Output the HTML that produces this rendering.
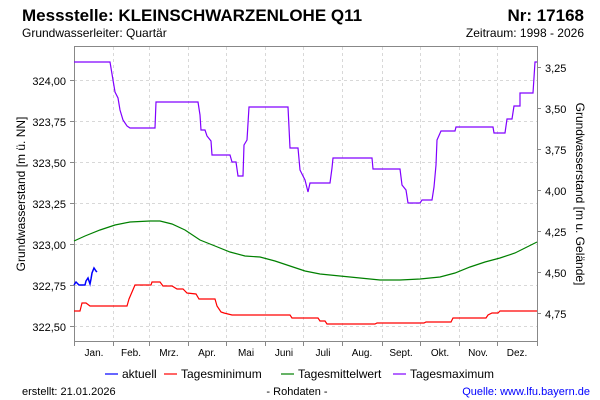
<!DOCTYPE html>
<html><head><meta charset="utf-8"><style>
body{margin:0;background:#fff;}
svg{display:block;font-family:"Liberation Sans",sans-serif;}
</style></head><body>
<svg width="600" height="400" viewBox="0 0 600 400">
<text x="22" y="21" font-size="17" font-weight="bold" fill="#000">Messstelle: KLEINSCHWARZENLOHE Q11</text>
<text x="584" y="21" font-size="17" font-weight="bold" text-anchor="end">Nr: 17168</text>
<text x="22" y="37" font-size="12">Grundwasserleiter: Quartär</text>
<text x="584" y="37" font-size="12" text-anchor="end">Zeitraum: 1998 - 2026</text>
<g stroke="#d8d8d8" stroke-dasharray="3,3" stroke-width="1">
<line x1="74" x2="537" y1="80.5" y2="80.5"/><line x1="74" x2="537" y1="121.5" y2="121.5"/><line x1="74" x2="537" y1="162.5" y2="162.5"/><line x1="74" x2="537" y1="203.5" y2="203.5"/><line x1="74" x2="537" y1="244.5" y2="244.5"/><line x1="74" x2="537" y1="285.5" y2="285.5"/><line x1="74" x2="537" y1="326.5" y2="326.5"/>
<line y1="47" y2="341" x1="113.5" x2="113.5"/><line y1="47" y2="341" x1="149.5" x2="149.5"/><line y1="47" y2="341" x1="188.5" x2="188.5"/><line y1="47" y2="341" x1="226.5" x2="226.5"/><line y1="47" y2="341" x1="265.5" x2="265.5"/><line y1="47" y2="341" x1="303.5" x2="303.5"/><line y1="47" y2="341" x1="342.5" x2="342.5"/><line y1="47" y2="341" x1="382.5" x2="382.5"/><line y1="47" y2="341" x1="420.5" x2="420.5"/><line y1="47" y2="341" x1="459.5" x2="459.5"/><line y1="47" y2="341" x1="497.5" x2="497.5"/>
</g>
<rect x="74.5" y="46.5" width="463" height="295" fill="none" stroke="#888"/>
<g stroke="#888"><line x1="74.5" x2="74.5" y1="341" y2="346"/><line x1="113.5" x2="113.5" y1="341" y2="346"/><line x1="149.5" x2="149.5" y1="341" y2="346"/><line x1="188.5" x2="188.5" y1="341" y2="346"/><line x1="226.5" x2="226.5" y1="341" y2="346"/><line x1="265.5" x2="265.5" y1="341" y2="346"/><line x1="303.5" x2="303.5" y1="341" y2="346"/><line x1="342.5" x2="342.5" y1="341" y2="346"/><line x1="382.5" x2="382.5" y1="341" y2="346"/><line x1="420.5" x2="420.5" y1="341" y2="346"/><line x1="459.5" x2="459.5" y1="341" y2="346"/><line x1="497.5" x2="497.5" y1="341" y2="346"/><line x1="537.5" x2="537.5" y1="341" y2="346"/>
<line x1="70" x2="74" y1="80.5" y2="80.5"/><line x1="70" x2="74" y1="121.5" y2="121.5"/><line x1="70" x2="74" y1="162.5" y2="162.5"/><line x1="70" x2="74" y1="203.5" y2="203.5"/><line x1="70" x2="74" y1="244.5" y2="244.5"/><line x1="70" x2="74" y1="285.5" y2="285.5"/><line x1="70" x2="74" y1="326.5" y2="326.5"/>
<line x1="537" x2="541" y1="67.5" y2="67.5"/><line x1="537" x2="541" y1="108.5" y2="108.5"/><line x1="537" x2="541" y1="149.5" y2="149.5"/><line x1="537" x2="541" y1="190.5" y2="190.5"/><line x1="537" x2="541" y1="231.5" y2="231.5"/><line x1="537" x2="541" y1="272.5" y2="272.5"/><line x1="537" x2="541" y1="313.5" y2="313.5"/></g>
<g font-size="11" text-anchor="end"><text x="66" y="85">324,00</text><text x="66" y="126">323,75</text><text x="66" y="167">323,50</text><text x="66" y="208">323,25</text><text x="66" y="249">323,00</text><text x="66" y="290">322,75</text><text x="66" y="331">322,50</text></g>
<g font-size="11"><text x="545" y="72">3,25</text><text x="545" y="113">3,50</text><text x="545" y="154">3,75</text><text x="545" y="195">4,00</text><text x="545" y="236">4,25</text><text x="545" y="277">4,50</text><text x="545" y="318">4,75</text></g>
<g font-size="10" text-anchor="middle"><text x="94" y="356">Jan.</text><text x="131" y="356">Feb.</text><text x="169" y="356">Mrz.</text><text x="207" y="356">Apr.</text><text x="246" y="356">Mai</text><text x="284" y="356">Juni</text><text x="323" y="356">Juli</text><text x="362" y="356">Aug.</text><text x="401" y="356">Sept.</text><text x="440" y="356">Okt.</text><text x="478" y="356">Nov.</text><text x="517" y="356">Dez.</text></g>
<text transform="translate(25,194) rotate(-90)" font-size="12" text-anchor="middle">Grundwasserstand [m ü. NN]</text>
<text transform="translate(576,194) rotate(90)" font-size="12" text-anchor="middle">Grundwasserstand [m u. Gelände]</text>
<polyline fill="none" stroke="#8000ff" stroke-width="1.2" points="74,62 110,62 113,80 115,92 118,98 120,110 123,120 127,126 130,128 155,128 156,102 198,102 200,115 201,130 205,130 207,136 211,141 212,155 230,155 232,162 236,162 238,176 243,176 244,145 247,140 249,107 288,107 290,148 298,148 300,170 305,180 308,192 310,183 330,183 332,168 333,158 372,158 373,169 400,169 402,185 406,190 408,203 420,203 422,200 432,200 434,187 436,165 437,140 441,131 455,131 456,127 493,127 494,133 505,133 507,119 512,119 514,106 520,106 520,93 533,93 535,62 537,62"/>
<polyline fill="none" stroke="#008000" stroke-width="1.2" points="74,241 85,236 100,230 115,225 130,222 150,221 160,221 172,224 185,230 200,240 215,246 230,252 245,256 260,257 275,261 290,266 305,271 320,274 340,276 360,278 380,280 400,280 420,279 440,277 455,273 470,267 485,262 500,258 515,253 525,248 537,242"/>
<polyline fill="none" stroke="#ff0000" stroke-width="1.2" points="74,311 80,311 82,303 86,303 90,306 127,306 129,299 132,292 135,285 151,285 152,282 160,282 163,286 172,286 177,289 183,289 187,293 196,294 199,299 215,299 217,306 221,312 224,313 232,315 290,315 292,318 318,318 320,321 325,321 327,324 338,324 375,324 377,323 424,323 426,322 451,322 453,318 486,318 488,315 492,313 498,313 500,311 537,311"/>
<polyline fill="none" stroke="#0000ff" stroke-width="1.5" points="74,285 76,282 79,285 85,285 86,281 88,278 90,284 91,279 92,273 94,268 96,271 97,272"/>
<g font-size="12"><line x1="105" x2="118" y1="374" y2="374" stroke="#00f" stroke-width="1.2"/><text x="122" y="378">aktuell</text>
<line x1="164" x2="177" y1="374" y2="374" stroke="#f00" stroke-width="1.2"/><text x="181" y="378">Tagesminimum</text>
<line x1="281" x2="294" y1="374" y2="374" stroke="#008000" stroke-width="1.2"/><text x="298" y="378">Tagesmittelwert</text>
<line x1="393" x2="406" y1="374" y2="374" stroke="#8000ff" stroke-width="1.2"/><text x="410" y="378">Tagesmaximum</text></g>
<text x="22" y="395" font-size="11">erstellt:  21.01.2026</text>
<text x="297" y="395" font-size="11" text-anchor="middle">- Rohdaten -</text>
<text x="590" y="395" font-size="11" text-anchor="end" fill="#0000ff">Quelle: www.lfu.bayern.de</text>
</svg>
</body></html>
